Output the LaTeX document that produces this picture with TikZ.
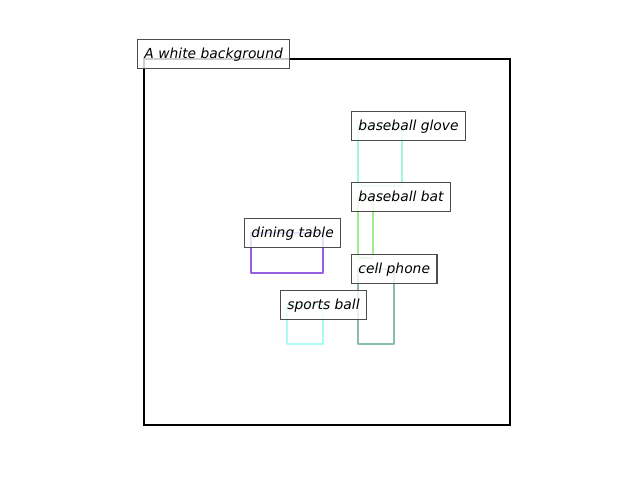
\documentclass[tikz,border=0pt]{standalone}
\usepackage{fontspec}
\newfontfamily\lblfont{DejaVu Sans}
\definecolor{cglove}{RGB}{160,245,225}
\definecolor{cbat}{RGB}{160,235,140}
\definecolor{ctable}{RGB}{150,95,225}
\definecolor{cphone}{RGB}{135,190,165}
\definecolor{cball}{RGB}{170,250,245}
\tikzset{
  lbl/.style={draw=black!70, line width=0.8pt, fill=white, fill opacity=0.8, text opacity=1,
    anchor=west, inner xsep=5pt, inner ysep=0pt, minimum height=20.5pt,
    text height=8pt, text depth=1.8pt,
    font=\lblfont\itshape\fontsize{10}{12}\selectfont},
  bbox/.style={line width=1.8pt, line join=round}
}
\begin{document}
\begin{tikzpicture}[x=0.01in,y=-0.01in]
\useasboundingbox (0,0) rectangle (640,480);
\draw[line width=1.5pt] (144,59) rectangle (510,425);
\draw[bbox, cglove] (358,126) rectangle (402,186);
\draw[bbox, cbat] (358,197) rectangle (373,258);
\draw[bbox, ctable] (251,233) rectangle (323,273);
\draw[bbox, cphone] (358,269) rectangle (394,344);
\draw[bbox, cball] (287,305) rectangle (323,344);
\node[lbl] (lbg) at (137,54) {A white background};
\node[lbl] (lglove) at (351,126) {baseball glove};
\node[lbl] (lbat) at (351,197) {baseball bat};
\node[lbl] (ltable) at (244,233) {dining table};
\node[lbl] (lphone) at (351,269) {cell phone};
\node[lbl] (lball) at (280,305) {sports ball};
\end{tikzpicture}
\end{document}
